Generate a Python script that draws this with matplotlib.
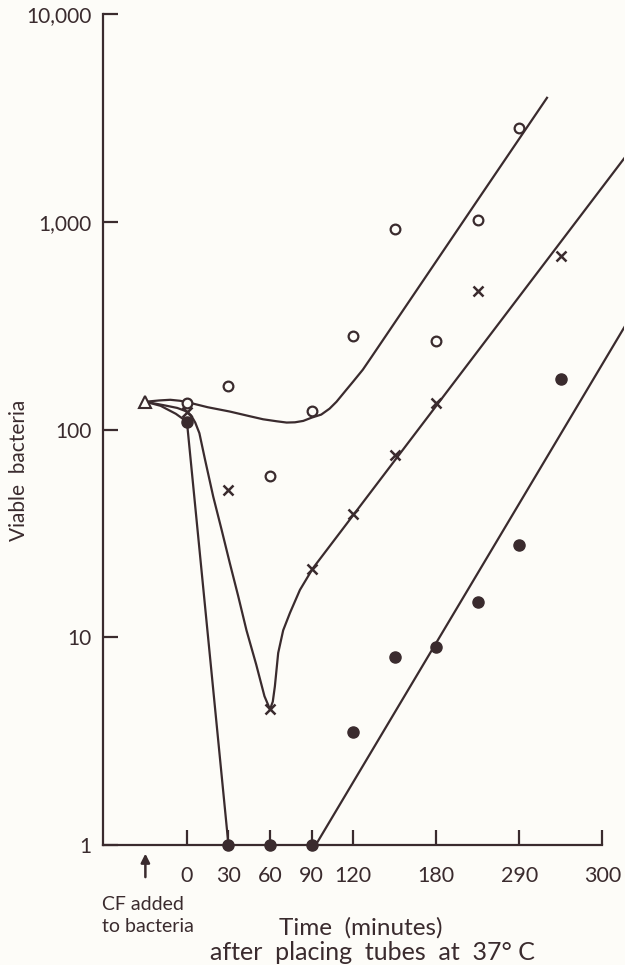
import matplotlib
matplotlib.use("Agg")
import matplotlib.pyplot as plt

ink = "#3a2b2e"
paper = "#fdfcf8"
plt.rcParams['font.family'] = ['Lato', 'DejaVu Sans']

# measured points
t_open = [0, 30, 60, 90, 120, 150, 180, 210, 240]
v_open = [134, 162, 60, 123, 282, 923, 267, 1019, 2826]
t_cross = [0, 30, 60, 90, 120, 150, 180, 210, 270]
v_cross = [122, 51, 4.5, 21.3, 39, 75, 134, 465, 685]
t_dot = [0, 30, 60, 90, 120, 150, 180, 210, 240, 270]
v_dot = [109, 1, 1, 1, 3.5, 8, 9, 14.8, 27.8, 175]
t_start = [-30]
v_start = [136]

# hand drawn curves
curve_open_t = [-30, -20, -12, -5, 1, 15, 31, 45, 55, 65, 72, 78, 84, 90, 97,
                103, 108, 115, 120, 127, 133, 211.5, 260]
curve_open_v = [136, 138, 139, 137.5, 135, 128, 122, 116, 112, 109.5, 108, 108.3, 110,
                114, 118, 126, 136, 155, 170, 194, 222, 1318, 3950]
curve_cross_t = [-30, -17, -7, 0, 3, 6, 9, 13, 19, 25, 31, 37, 43, 50, 56, 60,
                 62, 63.5, 65.9, 69.5, 74.4, 81.6, 91, 316]
curve_cross_v = [136, 131, 127, 122, 117, 108, 96, 72, 47.5, 33, 22.7, 15.8, 10.8, 7.4,
                 5.2, 4.5, 4.9, 5.8, 8.4, 10.8, 13.1, 16.9, 21.5, 2030]
curve_dot_t = [-30, -19, -8, 0, 30]
curve_dot_v = [136, 130, 119, 109, 1]
regrow_t = [93, 316]
regrow_v = [1, 312]

x_ticks = [0, 30, 60, 90, 120, 180, 240, 300]
x_labels = ["0", "30", "60", "90", "120", "180", "290", "300"]
y_ticks = [1, 10, 100, 1000, 10000]
y_labels = ["1", "10", "100", "1,000", "10,000"]

fig = plt.figure(figsize=(6.25, 9.65), dpi=100, facecolor=paper)
ax = fig.add_axes([103 / 625, 120 / 965, 521 / 625, 831 / 965])
ax.set_facecolor(paper)
ax.set_yscale("log")
ax.set_xlim(-60.6, 315.6)
ax.set_ylim(1, 10000)

lw = 1.6
ax.plot(curve_open_t, curve_open_v, color=ink, lw=lw, zorder=2)
ax.plot(curve_cross_t, curve_cross_v, color=ink, lw=lw, zorder=2)
ax.plot(curve_dot_t, curve_dot_v, color=ink, lw=lw, zorder=2)
ax.plot(regrow_t, regrow_v, color=ink, lw=lw, zorder=2)

ax.plot(t_open, v_open, "o", ms=7, mfc=paper, mec=ink, mew=1.6, zorder=4, clip_on=False)
ax.plot(t_cross, v_cross, "x", ms=7, mec=ink, mew=1.8, zorder=4, clip_on=False)
ax.plot(t_dot, v_dot, "o", ms=8, mfc=ink, mec=ink, zorder=5, clip_on=False)
ax.plot(t_start, v_start, "^", ms=8, mfc=paper, mec=ink, mew=1.5, zorder=4, clip_on=False)

for s in ["top", "right"]:
    ax.spines[s].set_visible(False)
for s in ["left", "bottom"]:
    ax.spines[s].set_color(ink)
    ax.spines[s].set_linewidth(1.6)
ax.spines["bottom"].set_bounds(-60.6, 300)

ax.set_yticks(y_ticks)
ax.set_yticklabels(y_labels)
ax.yaxis.set_minor_locator(matplotlib.ticker.NullLocator())
ax.set_xticks(x_ticks)
ax.set_xticklabels(x_labels)
ax.tick_params(axis="y", direction="in", length=11, width=1.6, color=ink,
               labelcolor=ink, labelsize=15, pad=8)
ax.tick_params(axis="x", direction="in", length=11, width=1.6, color=ink,
               labelcolor=ink, labelsize=15.5, pad=15)

# arrow under the axis where CF was added
ax.annotate("", xy=(-30, -0.007), xytext=(-30, -0.042),
            xycoords=ax.get_xaxis_transform(), textcoords=ax.get_xaxis_transform(),
            arrowprops=dict(arrowstyle="-|>", color=ink, lw=1.8, mutation_scale=13),
            annotation_clip=False)

fig.text(19 / 625, 1 - 470 / 965, "Viable  bacteria", fontsize=15, color=ink,
         rotation=90, va="center", ha="center")
fig.text(102 / 625, 1 - 905 / 965, "CF added", fontsize=14, color=ink, va="center", ha="left")
fig.text(102 / 625, 1 - 926 / 965, "to bacteria", fontsize=14, color=ink, va="center", ha="left")
fig.text(361 / 625, 1 - 928 / 965, "Time  (minutes)", fontsize=17.5, color=ink, va="center", ha="center")
fig.text(372 / 625, 1 - 952 / 965, "after  placing  tubes  at  37° C", fontsize=18, color=ink,
         va="center", ha="center")

fig.savefig("out.png", dpi=100, facecolor=paper)
